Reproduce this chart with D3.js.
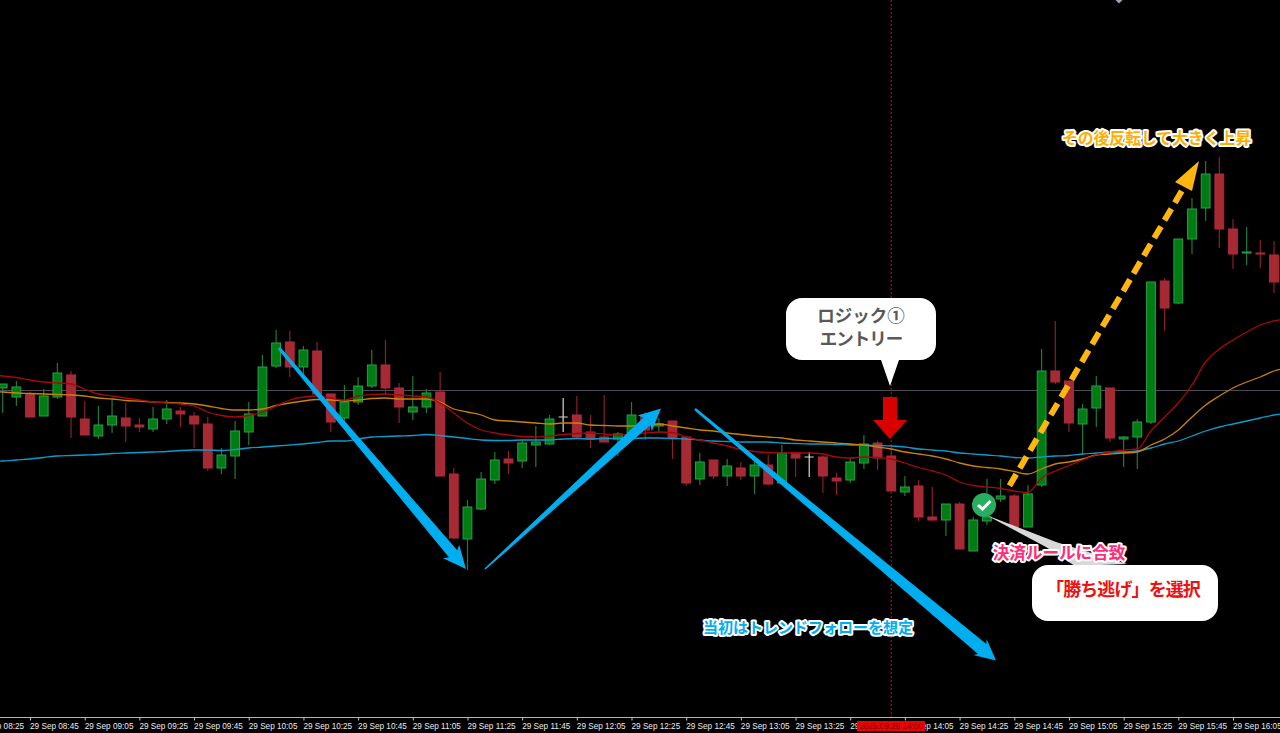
<!DOCTYPE html>
<html lang="ja"><head><meta charset="utf-8">
<script src="https://cdn.jsdelivr.net/npm/d3@7"></script>
<style>html,body{margin:0;padding:0;background:#000;overflow:hidden}svg{display:block}</style>
</head><body><svg id="c" width="1280" height="733"></svg>
<script>
// Price in chart points, measured from the grey horizontal level (0 = the level, positive = higher)
const level = 390.5;
const p = a => a.map(v => level - v);
// Per 5-minute bar, starting 29 Sep 08:35
const opens = p([388,397,394,416,397,375,419,436,425,418,425,429,419,411,416,424,468,456,432,416,366,342,367,351,394,418,402,386,365,388,412,407,392,474,539,509,480,459,461,445,444,417,415,432,437,439,433,415,426,421,437,479,460,476,468,476,465,483,453,457,457,478,480,463,443,456,492,486,517,520,504,551,521,499,496,527,485,371,381,424,408,388,439,437,422,281,303,239,208,174,229,253,253,255]);
const closes = p([384,387,417,396,373,417,435,425,416,426,427,419,409,414,424,468,455,431,414,367,343,367,350,394,422,402,386,365,388,407,407,393,476,538,507,479,460,463,443,442,419,417,437,439,442,434,415,430,424,438,483,462,476,466,476,465,484,453,458,457,476,481,462,444,458,491,487,517,520,504,549,520,517,496,527,494,371,382,423,409,386,438,437,422,282,308,239,209,174,229,254,252,254,282]);
const highs = p([384,381,392,389,363,371,401,406,400,403,418,407,400,407,412,417,448,421,402,355,330,331,346,342,394,385,377,350,340,383,376,389,372,468,500,472,452,451,440,426,415,398,396,415,395,432,402,412,418,421,437,453,460,459,462,462,455,445,453,452,456,473,458,435,441,446,476,480,487,504,502,517,479,479,494,485,349,321,381,404,376,388,436,419,282,278,239,198,161,157,219,227,240,241]);
const lows = p([413,406,417,416,399,438,435,439,433,442,432,432,424,427,448,471,474,479,445,416,368,377,377,394,432,423,405,388,395,423,420,413,476,539,570,510,484,474,468,467,445,432,438,448,442,456,433,440,433,459,486,485,479,486,480,494,485,483,477,477,493,495,483,469,470,491,496,521,521,536,549,551,525,502,527,527,487,384,432,455,427,442,467,469,424,331,304,254,221,248,269,265,268,293]);
// Moving averages: one reading per bar, plus one bar just off each edge of the window
const maFast = p([375,376,377.5,380,382,383,384,389,394,396,398,400,402,403,404,406,412,415.5,417,415.5,412,406,400,397,396,398,400,396,394.5,394,395,396,397,403,413,423,430,433,435,436.5,437,436,434.5,433.5,433,434,435,434,433,432,432.5,437,440,443,446,449.5,451.5,452.5,453,453,453,454,457,458,457,457.5,459,463,467.5,471,475,482,485.5,487,488.5,491,492.5,478,471,465.5,460,455,452,450,449,431,417,403,385,362,349,340,332,325,321,319]);
const maMid = p([391.5,392,393,393.5,394,394.5,395,396,398,399,400.5,401,402,402.5,403,404,406,408.5,410,410,409,405.5,403,401,399.5,400,401,400,398.5,398,399,399,399,402,409,412,415,420,421,422,423,424,423,423,425,425.5,426,426,425,424,426,428,430,431,433,434.5,436,437,438,440,441,442,443,444,445,447,449,452,454,456,459,463,466,467.5,469,471.5,474,469,464,462,459,455,454,453,452,445,439,430,417,405,396,388,382,377,371,368]);
const maSlow = p([461.5,461,460,459,457.5,456,455.5,455,454.5,453.5,453,452.5,452,451.5,450.5,450,450,450.5,449.5,448,447,446,445,444,442.5,441,441,439,437,436.5,436,435.5,434.5,435.5,437,438.5,440,440.5,440.5,440,440,440,439,438.5,439,438.5,438.5,438.5,438,438,438.5,439,440,441,441.5,442,442,442,443,443.5,444,444,444.5,445,445,445.5,446,447,449,450,451,453,454,455,456,457.5,458,457,456,455.5,454,453,452,452,451,448,444,441,436,431,427,424,421,418,415,413]);
const tickBars = d3.range(-2, 94, 4);
const startMinutes = 8*60 + 35;
const crossBar = 65;
const crossLabel = "2025.09.29 14:00";
const fmtTick = i => { const m = startMinutes + i*5; return "29 Sep " + String(Math.floor(m/60)).padStart(2,"0") + ":" + String(m%60).padStart(2,"0"); };

const svg = d3.select("#c");
const x = d3.scaleLinear().domain([0, 93]).range([2.7, 1274]);
const y = d3.scaleLinear().domain([level, level - 717]).range([0, 717]);
const axisFont = "'Liberation Sans',Arial,sans-serif";

// axis
const ax = svg.append("g").attr("transform","translate(0,717.5)").call(d3.axisBottom(x).tickValues(tickBars).tickSize(3).tickPadding(1).tickSizeOuter(0).tickFormat(fmtTick));
ax.select(".domain").attr("d","M0,0H1280").attr("stroke","#b4b4b4").attr("stroke-width",1);
ax.selectAll(".tick line").attr("stroke","#c8c8c8");
ax.selectAll(".tick text").attr("fill","#ececec").attr("font-family",axisFont).attr("font-size",8.2).attr("text-anchor","start").attr("dx",-0.5).attr("dy",7.2);

// level line
svg.append("line").attr("x1",0).attr("x2",1280).attr("y1",y(0)).attr("y2",y(0)).attr("stroke","#4d4d5a").attr("stroke-width",1.2);
// crosshair
svg.append("line").attr("x1",x(crossBar)).attr("x2",x(crossBar)).attr("y1",0).attr("y2",717).attr("stroke","#a00c18").attr("stroke-width",1.2).attr("stroke-dasharray","2 2");

const bars = d3.range(opens.length);
const greenFill="#007c12", greenEdge="#2a9d4a", redFill="#a52a34", redEdge="#b02a3c", whiteC="#d8d8d8";
const up = i => closes[i] >= opens[i];
const isDoji = new Set([41,59]);

// candles
const g = svg.append("g");
g.selectAll("line.w").data(bars).join("line").attr("class","w")
 .attr("x1",x).attr("x2",x).attr("y1",i=>y(highs[i])).attr("y2",i=>y(lows[i]))
 .attr("stroke",i=>isDoji.has(i)?whiteC:(up(i)?"#1f7a3c":"#8c1c30")).attr("stroke-width",1.2);
g.selectAll("rect.b").data(bars.filter(i=>!isDoji.has(i))).join("rect").attr("class","b")
 .attr("x",i=>x(i)-4.4).attr("width",8.8)
 .attr("y",i=>Math.min(y(opens[i]),y(closes[i]))).attr("height",i=>Math.max(1,Math.abs(y(opens[i])-y(closes[i]))))
 .attr("fill",i=>up(i)?greenFill:redFill).attr("stroke",i=>up(i)?greenEdge:redEdge).attr("stroke-width",1);
g.selectAll("line.d").data([41,59]).join("line").attr("class","d")
 .attr("x1",i=>x(i)-4.5).attr("x2",i=>x(i)+4.5).attr("y1",i=>y(opens[i])).attr("y2",i=>y(opens[i])).attr("stroke",whiteC).attr("stroke-width",1);

// moving averages
const line = d3.line().x((d,i)=>x(i-1)).y(d=>y(d)).curve(d3.curveMonotoneX);
[[maSlow,"#0c9ccc"],[maMid,"#c98208"],[maFast,"#a80808"]].forEach(([s,c])=>{
 svg.append("path").attr("d",line(s)).attr("fill","none").attr("stroke",c).attr("stroke-width",1.3);
});

// top-edge marker
svg.append("path").attr("d","M1115.5 0L1119 3.6L1122.5 0Z").attr("fill","#9aa4b5");

// hand-drawn annotations
const blue="#00aeef";
function taperArrow(x0,y0,x1,y1,tail,neck,headLen,headW,color){
 const dx=x1-x0,dy=y1-y0,L=Math.hypot(dx,dy),ux=dx/L,uy=dy/L,nx=-uy,ny=ux;
 const bx=x1-ux*headLen,by=y1-uy*headLen;
 const pts=[[x0+nx*tail,y0+ny*tail],[bx+nx*neck+ux*3,by+ny*neck+uy*3],[bx+nx*headW,by+ny*headW],[x1,y1],[bx-nx*headW,by-ny*headW],[bx-nx*neck+ux*3,by-ny*neck+uy*3],[x0-nx*tail,y0-ny*tail]];
 svg.append("polygon").attr("points",pts.map(q=>q.join(",")).join(" ")).attr("fill",color);
}
taperArrow(279,348,466,569,1.5,5.5,23,10.5,blue);
taperArrow(485,569,661,408.5,0.8,5,22,10.5,blue);
taperArrow(695,409,996,660.5,1.2,6.5,21,10.5,blue);

// yellow dashed arrow
const yel="#ffb60f";
svg.append("line").attr("x1",1181.7).attr("y1",191).attr("x2",1007).attr("y2",490).attr("stroke",yel).attr("stroke-width",6).attr("stroke-dasharray","13.5 7");
svg.append("polygon").attr("points","1199,161 1175,182 1192,191").attr("fill",yel);

// red entry arrow
svg.append("polygon").attr("points","883,397 897,397 897,420 907,420 890,439 873,420 883,420").attr("fill","#d90000");

// callout 1
svg.append("path").attr("d","M802 298H920A16 16 0 0 1 936 314V344A16 16 0 0 1 920 360H899L890 386L881 360H802A16 16 0 0 1 786 344V314A16 16 0 0 1 802 298Z").attr("fill","#fff");
const jp="'Noto Sans CJK JP','Noto Sans',sans-serif";
svg.append("text").attr("x",861).attr("y",322).attr("text-anchor","middle").attr("font-family",jp).attr("font-weight",700).attr("font-size",17.5).attr("fill","#595959").text("ロジック①");
svg.append("text").attr("x",861).attr("y",345).attr("text-anchor","middle").attr("font-family",jp).attr("font-weight",700).attr("font-size",17.5).attr("letter-spacing",-1).attr("fill","#595959").text("エントリー");

// pointer + callout 2
svg.append("polygon").attr("points","986,515 1056,542 1127,564 1075,566 1046,547").attr("fill","#d8d8d8");
svg.append("rect").attr("x",1032).attr("y",565).attr("width",186).attr("height",56).attr("rx",16).attr("fill","#fff");
svg.append("text").attr("x",1123).attr("y",596).attr("text-anchor","middle").attr("font-family",jp).attr("font-weight",700).attr("font-size",18).attr("letter-spacing",-0.9).attr("fill","#ee1111").text("「勝ち逃げ」を選択");

// check badge
svg.append("circle").attr("cx",984).attr("cy",505).attr("r",12).attr("fill","#27ae60");
svg.append("path").attr("d","M978 505L982.5 509L990.5 501").attr("fill","none").attr("stroke","#fff").attr("stroke-width",3);

// halo labels
function halo(t,cx,cy,size,color){
 svg.append("text").attr("x",cx).attr("y",cy).attr("text-anchor","middle").attr("font-family",jp).attr("font-weight",700).attr("font-size",size).text(t)
  .attr("fill",color).attr("stroke","#fff").attr("stroke-width",4).attr("stroke-linejoin","round").attr("paint-order","stroke");
}
halo("その後反転して大きく上昇",1156.5,144,15.8,"#ffae00");
halo("決済ルールに合致",1059,559,16.6,"#ff2d78");
halo("当初はトレンドフォローを想定",808,633,15,"#00aeef");

// crosshair time label
svg.append("rect").attr("x",857).attr("y",721).attr("width",68).attr("height",10).attr("fill","#f00000");
svg.append("text").attr("x",891).attr("y",729).attr("text-anchor","middle").attr("font-family",axisFont).attr("font-size",8.2).attr("fill","#7a0000").text(crossLabel);
</script></body></html>
